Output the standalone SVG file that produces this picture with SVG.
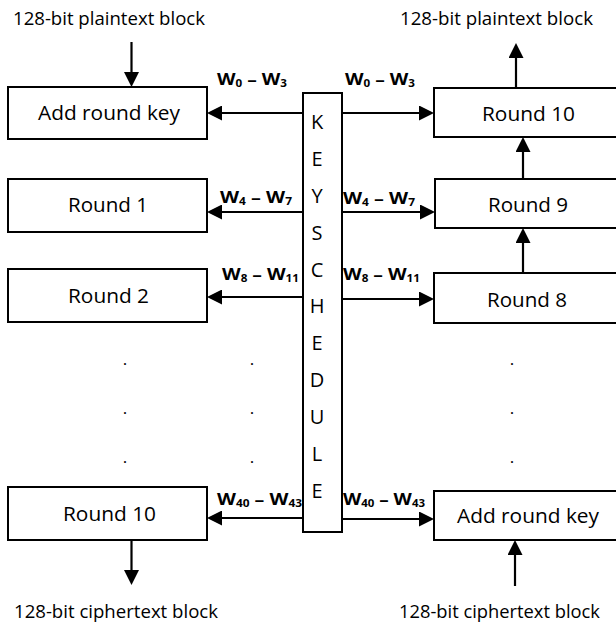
<svg xmlns="http://www.w3.org/2000/svg" width="616" height="628" viewBox="0 0 616 628">
<style>
.box{fill:#fff;stroke:#000;stroke-width:2}
.lbl{font-family:"Open Sans","Liberation Sans",sans-serif;font-size:19.5px;fill:#000;text-anchor:start}
.hd{font-family:"Open Sans","Liberation Sans",sans-serif;font-size:18px;fill:#000}
.key{font-family:"Open Sans","Liberation Sans",sans-serif;font-size:20px;fill:#000;text-anchor:middle}
.w{font-family:"Open Sans","Liberation Sans",sans-serif;font-size:16.5px;font-weight:bold;fill:#000}
.sub{font-size:10px}
.dot{font-family:"Open Sans","Liberation Sans",sans-serif;font-size:17px;fill:#000;text-anchor:middle}
.arr{stroke:#000;stroke-width:2.2;fill:none;marker-end:url(#ah)}
</style>
<defs>
<marker id="ah" viewBox="0 0 15 15" refX="10" refY="7.5" markerWidth="15" markerHeight="15" markerUnits="userSpaceOnUse" orient="auto">
<path d="M0,0 L15,7.5 L0,15 z" fill="#000"/>
</marker>
</defs>
<rect width="616" height="628" fill="#fff"/>

<text class="hd" x="13" y="25" textLength="192" lengthAdjust="spacingAndGlyphs">128-bit plaintext block</text>
<text class="hd" x="400" y="25" textLength="193" lengthAdjust="spacingAndGlyphs">128-bit plaintext block</text>
<text class="hd" x="14" y="618" textLength="204" lengthAdjust="spacingAndGlyphs">128-bit ciphertext block</text>
<text class="hd" x="399" y="618" textLength="201" lengthAdjust="spacingAndGlyphs">128-bit ciphertext block</text>

<g id="enc-add-round-key">
<rect class="box" x="8" y="87" width="199" height="52"/>
<text class="lbl" x="38" y="120" textLength="142" lengthAdjust="spacingAndGlyphs">Add round key</text>
</g>
<g id="enc-round-1">
<rect class="box" x="8" y="179" width="199" height="53"/>
<text class="lbl" x="68" y="212" textLength="80" lengthAdjust="spacingAndGlyphs">Round 1</text>
</g>
<g id="enc-round-2">
<rect class="box" x="8" y="269" width="199" height="53"/>
<text class="lbl" x="68" y="303" textLength="81" lengthAdjust="spacingAndGlyphs">Round 2</text>
</g>
<g id="enc-round-10">
<rect class="box" x="8" y="487" width="199" height="53"/>
<text class="lbl" x="63" y="521" textLength="93" lengthAdjust="spacingAndGlyphs">Round 10</text>
</g>

<g id="dec-round-10">
<rect class="box" x="434" y="88" width="190" height="49"/>
<text class="lbl" x="482" y="120.5" textLength="93" lengthAdjust="spacingAndGlyphs">Round 10</text>
</g>
<g id="dec-round-9">
<rect class="box" x="435" y="179" width="190" height="49"/>
<text class="lbl" x="488" y="212" textLength="80" lengthAdjust="spacingAndGlyphs">Round 9</text>
</g>
<g id="dec-round-8">
<rect class="box" x="434" y="273" width="190" height="50"/>
<text class="lbl" x="487" y="307" textLength="80" lengthAdjust="spacingAndGlyphs">Round 8</text>
</g>
<g id="dec-add-round-key">
<rect class="box" x="434" y="491" width="190" height="49"/>
<text class="lbl" x="457" y="523" textLength="142" lengthAdjust="spacingAndGlyphs">Add round key</text>
</g>

<g id="key-schedule">
<rect class="box" x="303" y="93" width="39" height="439"/>
<text class="key" x="317" y="129">K</text>
<text class="key" x="317" y="166">E</text>
<text class="key" x="317" y="203">Y</text>
<text class="key" x="317" y="240">S</text>
<text class="key" x="317" y="277">C</text>
<text class="key" x="317" y="313">H</text>
<text class="key" x="317" y="350">E</text>
<text class="key" x="317" y="387">D</text>
<text class="key" x="317" y="424">U</text>
<text class="key" x="317" y="461">L</text>
<text class="key" x="317" y="498">E</text>
</g>

<g id="dots">
<text class="dot" x="125" y="365">.</text>
<text class="dot" x="252" y="365">.</text>
<text class="dot" x="512" y="365">.</text>
<text class="dot" x="125" y="414">.</text>
<text class="dot" x="252" y="414">.</text>
<text class="dot" x="512" y="414">.</text>
<text class="dot" x="125" y="463">.</text>
<text class="dot" x="252" y="463">.</text>
<text class="dot" x="512" y="463">.</text>
</g>

<g id="connectors">
<line class="arr" x1="131.5" y1="42" x2="131.5" y2="82"/>
<line class="arr" x1="516" y1="88" x2="516" y2="48"/>
<line class="arr" x1="523" y1="179" x2="523" y2="142"/>
<line class="arr" x1="523" y1="273" x2="523" y2="233"/>
<line class="arr" x1="131.5" y1="540" x2="131.5" y2="580"/>
<line class="arr" x1="515" y1="586" x2="515" y2="545"/>

<line class="arr" x1="303" y1="113" x2="212" y2="113"/>
<line class="arr" x1="342" y1="113" x2="429" y2="113"/>
<line class="arr" x1="303" y1="212" x2="212" y2="212"/>
<line class="arr" x1="342" y1="212" x2="430" y2="212"/>
<line class="arr" x1="303" y1="297" x2="212" y2="297"/>
<line class="arr" x1="342" y1="299" x2="429" y2="299"/>
<line class="arr" x1="303" y1="518" x2="212" y2="518"/>
<line class="arr" x1="342" y1="519" x2="429" y2="519"/>
</g>

<g id="key-labels">
<text class="w" x="217" y="85" textLength="70" lengthAdjust="spacingAndGlyphs">W<tspan class="sub" dy="2">0</tspan><tspan dy="-2"> – W</tspan><tspan class="sub" dy="2">3</tspan></text>
<text class="w" x="345" y="85" textLength="70" lengthAdjust="spacingAndGlyphs">W<tspan class="sub" dy="2">0</tspan><tspan dy="-2"> – W</tspan><tspan class="sub" dy="2">3</tspan></text>
<text class="w" x="220" y="203" textLength="72" lengthAdjust="spacingAndGlyphs">W<tspan class="sub" dy="2">4</tspan><tspan dy="-2"> – W</tspan><tspan class="sub" dy="2">7</tspan></text>
<text class="w" x="343" y="204" textLength="72" lengthAdjust="spacingAndGlyphs">W<tspan class="sub" dy="2">4</tspan><tspan dy="-2"> – W</tspan><tspan class="sub" dy="2">7</tspan></text>
<text class="w" x="222" y="280" textLength="77" lengthAdjust="spacingAndGlyphs">W<tspan class="sub" dy="2">8</tspan><tspan dy="-2"> – W</tspan><tspan class="sub" dy="2">11</tspan></text>
<text class="w" x="343" y="280" textLength="77" lengthAdjust="spacingAndGlyphs">W<tspan class="sub" dy="2">8</tspan><tspan dy="-2"> – W</tspan><tspan class="sub" dy="2">11</tspan></text>
<text class="w" x="217" y="505" textLength="85" lengthAdjust="spacingAndGlyphs">W<tspan class="sub" dy="2">40</tspan><tspan dy="-2"> – W</tspan><tspan class="sub" dy="2">43</tspan></text>
<text class="w" x="343" y="505" textLength="82" lengthAdjust="spacingAndGlyphs">W<tspan class="sub" dy="2">40</tspan><tspan dy="-2"> – W</tspan><tspan class="sub" dy="2">43</tspan></text>
</g>
</svg>
